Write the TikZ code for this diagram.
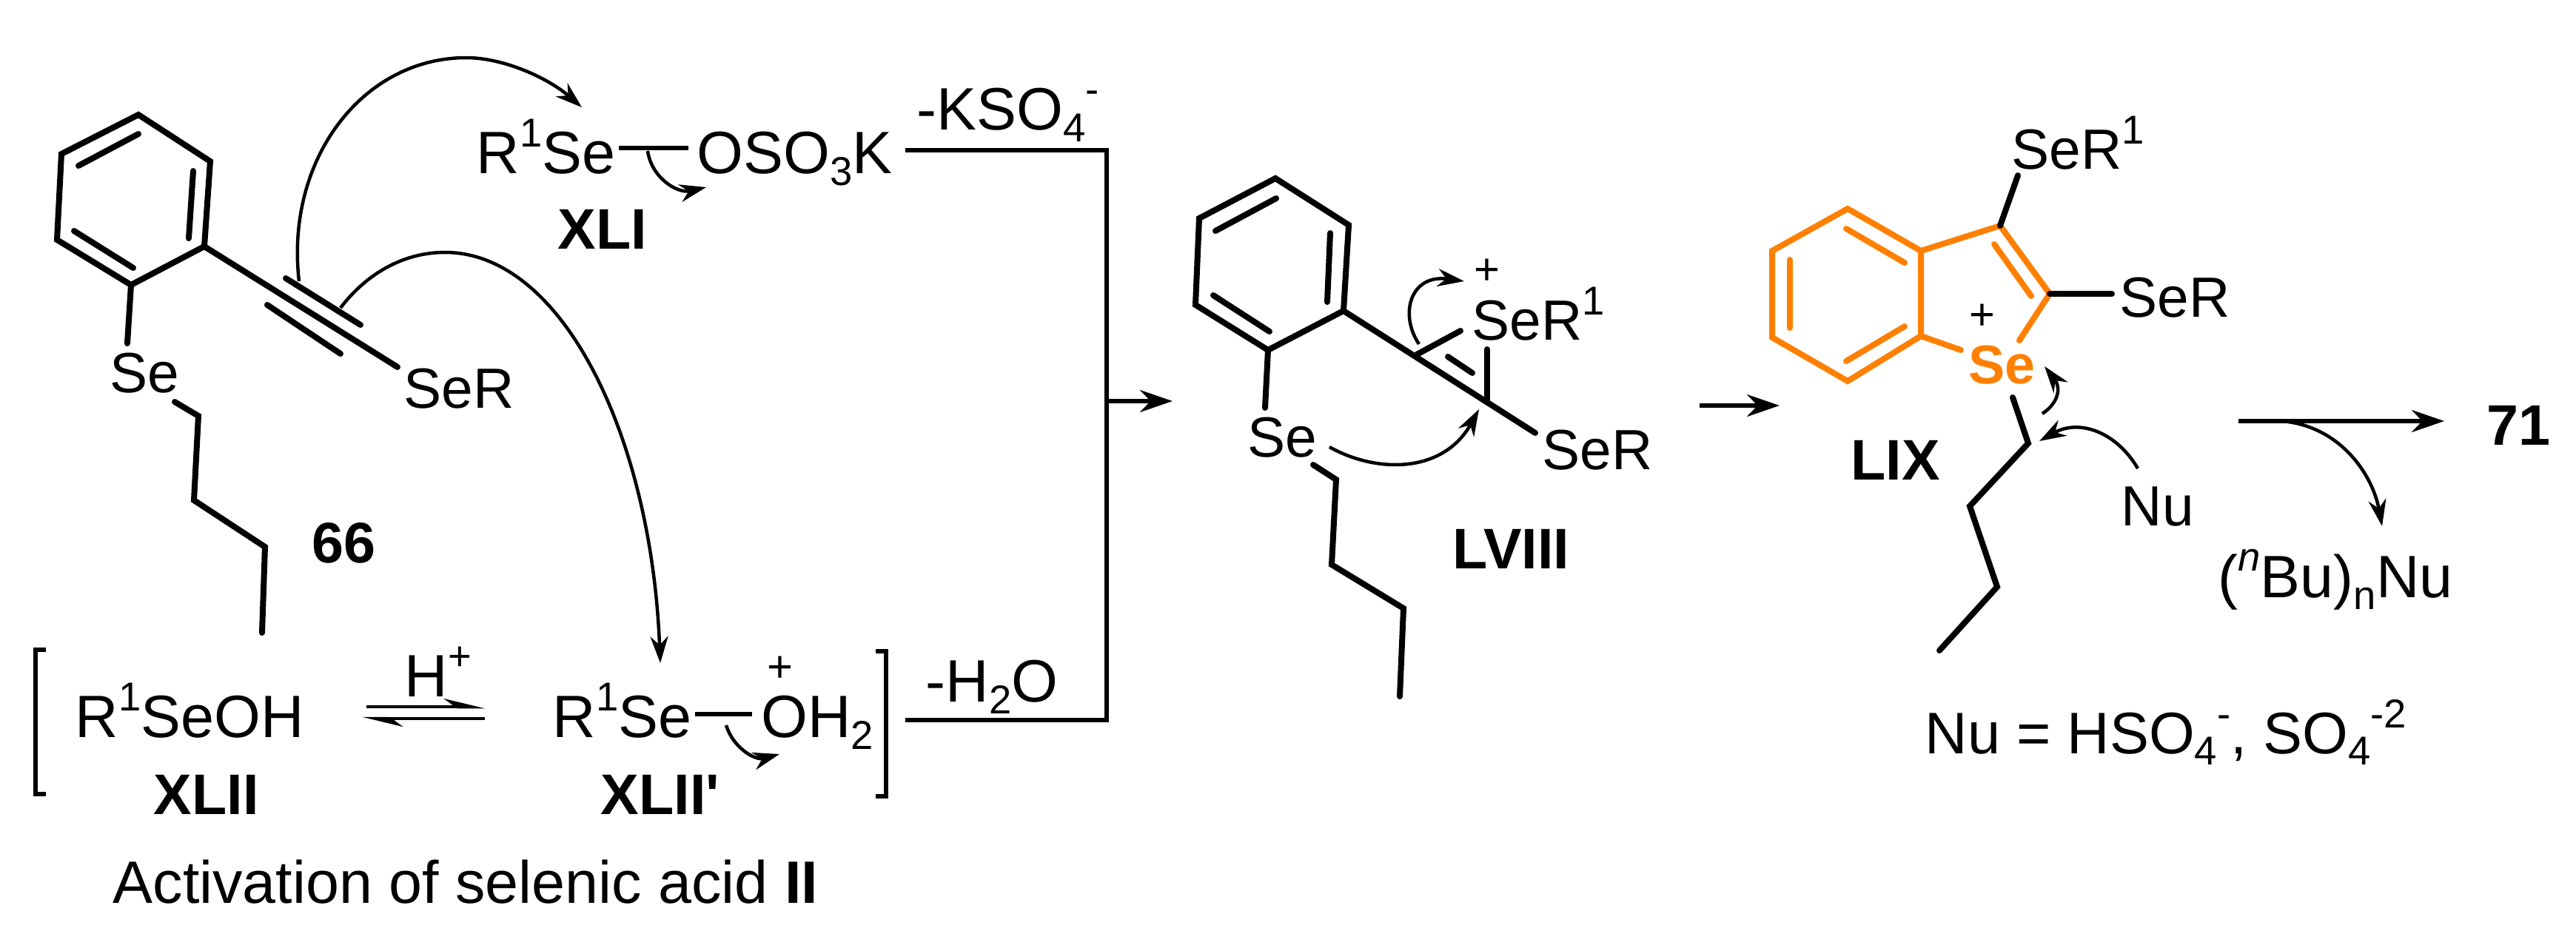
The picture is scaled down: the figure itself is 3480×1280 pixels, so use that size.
\documentclass[tikz,border=0pt]{standalone}
\usepackage{fontspec}
\setmainfont{Liberation Sans}
\usepackage{tikz}
\usetikzlibrary{arrows.meta}

\newcommand{\Sp}[1]{\raisebox{0.44em}{\fontsize{15.5}{15.5}\selectfont #1}}
\newcommand{\Sb}[1]{\raisebox{-0.2em}{\fontsize{15.5}{15.5}\selectfont #1}}

\begin{document}
\begin{tikzpicture}[x=0.1mm, y=-0.1mm]
		\tikzstyle{Label}	= [inner sep=0pt, anchor=base west, font=\fontsize{23}{27}\selectfont]
		\tikzstyle{Atom}	= [inner sep=0pt, anchor=base west, font=\fontsize{21.8}{26}\selectfont]
		\tikzstyle{Bold}	= [inner sep=0pt, anchor=base west, font=\fontsize{22}{26}\selectfont\bfseries]
		\tikzstyle{Plus}	= [inner sep=0pt, font=\fontsize{17}{20}\selectfont]
		\tikzstyle{Bond}	= [line width=0.8mm, line cap=round]
		\tikzstyle{Ring}	= [Bond, orange1]
		\tikzstyle{Frame}	= [line width=0.6mm]
		\tikzstyle{Push}	= [line width=0.45mm, -{Stealth[length=3.6mm, width=2.4mm]}]
		\tikzstyle{React}	= [line width=0.55mm, -{Stealth[length=4.4mm, width=3mm]}]
		\tikzstyle{Half}	= [line width=0.45mm, -{Stealth[length=4.6mm, width=2.2mm, left]}]
		\definecolor{orange1}{RGB}{255,128,0}

		\useasboundingbox (0,0) rectangle (3480,1280);

		% substrate 66
		\coordinate (a1) at (187,155);
		\coordinate (a2) at (284,218);
		\coordinate (a3) at (276,333);
		\coordinate (a4) at (177,385);
		\coordinate (a5) at (77,324);
		\coordinate (a6) at (83,208);
		\coordinate (a7) at (172,464);
		\coordinate (a8) at (236,543);
		\coordinate (a9) at (268,562);
		\coordinate (a10) at (262,676);
		\coordinate (a11) at (358,739);
		\coordinate (a12) at (354,855);
		\coordinate (a13) at (537,496);
		\draw (a1) -- (a2) -- (a3) -- (a4) -- (a5) -- (a6) -- cycle [Bond];
		\draw (106,224) -- (187,181) [Bond];
		\draw (261,231) -- (255,322) [Bond];
		\draw (100,312) -- (180,362) [Bond];
		\draw (a4) -- (a7) [Bond];
		\draw (a8) -- (a9) -- (a10) -- (a11) -- (a12) [Bond];
		\draw (a3) -- (a13) [Bond];
		\coordinate (t1) at (386,376);
		\coordinate (t2) at (487,439);
		\coordinate (t3) at (361,412);
		\coordinate (t4) at (460,478);
		\draw (t1) -- (t2) [Bond];
		\draw (t3) -- (t4) [Bond];
		\node (se1) at (148,530) [Atom] {Se};
		\node (ser1) at (545,551) [Atom] {SeR};
		\node (n66) at (421,760) [Bold] {66};

		% selenyl sulfate
		\node (xliA) at (643,234) [Label] {R\Sp{1}Se};
		\node (xliB) at (941,234) [Label] {OSO\Sb{3}K};
		\node (xli) at (753,336) [Bold] {XLI};
		\coordinate (d1) at (836,200);
		\coordinate (d2) at (930,200);
		\draw (d1) -- (d2) [Frame];
		\coordinate (d3) at (875,204);
		\coordinate (d4) at (954,253);
		\draw (d3) .. controls (880,240) and (915,262) .. (d4) [Push];
		\coordinate (p1) at (404,380);
		\coordinate (p2) at (630,78);
		\coordinate (p3) at (786,145);
		\draw (p1) .. controls (385,215) and (490,78) .. (p2) .. controls (680,78) and (740,105) .. (p3) [Push];
		\coordinate (q1) at (460,416);
		\coordinate (q2) at (601,341);
		\coordinate (q3) at (892,896);
		\draw (q1) .. controls (495,370) and (545,341) .. (q2) .. controls (760,341) and (880,590) .. (q3) [Push];

		% bracket
		\coordinate (l1) at (62,878);
		\coordinate (l2) at (48,878);
		\coordinate (l3) at (48,1073);
		\coordinate (l4) at (62,1073);
		\draw (l1) -- (l2) -- (l3) -- (l4) [Frame];
		\coordinate (r1) at (1183,880);
		\coordinate (r2) at (1197,880);
		\coordinate (r3) at (1197,1076);
		\coordinate (r4) at (1183,1076);
		\draw (r1) -- (r2) -- (r3) -- (r4) [Frame];
		\node (xliiA) at (101,996) [Label] {R\Sp{1}SeOH};
		\node (xlii) at (207,1100) [Bold] {XLII};
		\node (hplus) at (546,941) [Label] {H\Sp{+}};
		\coordinate (e1) at (495,955);
		\coordinate (e2) at (655,955);
		\coordinate (e3) at (655,971);
		\coordinate (e4) at (489,971);
		\draw (e1) -- (e2) [Half];
		\draw (e3) -- (e4) [Half];
		\node (xliiB) at (746,996) [Label] {R\Sp{1}Se};
		\node (xliiC) at (1028,996) [Label] {OH\Sb{2}};
		\node (plus1) at (1054,904) [Plus] {+};
		\node (xliip) at (811,1100) [Bold] {XLII{\addfontfeatures{Ligatures=TeXOff}'}};
		\coordinate (f1) at (939,965);
		\coordinate (f2) at (1016,965);
		\draw (f1) -- (f2) [Frame];
		\coordinate (f3) at (981,980);
		\coordinate (f4) at (1053,1019);
		\draw (f3) .. controls (990,1010) and (1020,1028) .. (f4) [Push];
		\node (activ) at (152,1220) [Label] {Activation of selenic acid \textbf{II}};

		% merging lines
		\coordinate (m1) at (1223,203);
		\coordinate (m2) at (1495,203);
		\coordinate (m3) at (1495,973);
		\coordinate (m4) at (1223,973);
		\coordinate (m5) at (1495,542);
		\coordinate (m6) at (1584,542);
		\draw (m1) -- (m2) -- (m3) -- (m4) [Frame];
		\draw (m5) -- (m6) [React];
		\node (kso) at (1238,175) [Label] {-KSO\Sb{4}\Sp{-}};
		\node (hho) at (1250,948) [Label] {-H\Sb{2}O};

		% seleniranium LVIII
		\coordinate (b1) at (1723,241);
		\coordinate (b2) at (1822,304);
		\coordinate (b3) at (1815,420);
		\coordinate (b4) at (1713,473);
		\coordinate (b5) at (1615,412);
		\coordinate (b6) at (1620,295);
		\coordinate (b7) at (1709,551);
		\coordinate (b8) at (1774,628);
		\coordinate (b9) at (1805,648);
		\coordinate (b10) at (1799,763);
		\coordinate (b11) at (1896,822);
		\coordinate (b12) at (1891,941);
		\coordinate (b13) at (2074,585);
		\coordinate (b14) at (1914,479);
		\coordinate (b15) at (2009,542);
		\coordinate (b16) at (1973,447);
		\coordinate (b17) at (2009,472);
		\draw (b1) -- (b2) -- (b3) -- (b4) -- (b5) -- (b6) -- cycle [Bond];
		\draw (1642,312) -- (1724,268) [Bond];
		\draw (1797,315) -- (1793,408) [Bond];
		\draw (1639,399) -- (1715,448) [Bond];
		\draw (b4) -- (b7) [Bond];
		\draw (b8) -- (b9) -- (b10) -- (b11) -- (b12) [Bond];
		\draw (b3) -- (b13) [Bond];
		\draw (b14) -- (b16) [Bond];
		\draw (b15) -- (b17) [Bond];
		\draw (1956,482) -- (1989,504) [Bond];
		\node (se2) at (1685,617) [Atom] {Se};
		\node (ser2) at (1988,459) [Atom] {SeR\Sp{1}};
		\node (ser3) at (2083,634) [Atom] {SeR};
		\node (plus2) at (2009,367) [Plus] {+};
		\node (lviii) at (1962,768) [Bold] {LVIII};
		\coordinate (g1) at (1917,465);
		\coordinate (g2) at (1978,380);
		\draw (g1) .. controls (1890,425) and (1905,370) .. (g2) [Push];
		\coordinate (g3) at (1796,604);
		\coordinate (g4) at (1998,553);
		\draw (g3) .. controls (1860,640) and (1950,640) .. (g4) [Push];
		\coordinate (h1) at (2296,548);
		\coordinate (h2) at (2404,548);
		\draw (h1) -- (h2) [React];

		% benzoselenophenium LIX
		\coordinate (c1) at (2496,282);
		\coordinate (c2) at (2595,339);
		\coordinate (c3) at (2595,454);
		\coordinate (c4) at (2496,515);
		\coordinate (c5) at (2394,456);
		\coordinate (c6) at (2394,339);
		\coordinate (c7) at (2702,305);
		\coordinate (c8) at (2769,397);
		\coordinate (c9) at (2728,460);
		\coordinate (c10) at (2649,473);
		\coordinate (c11) at (2726,237);
		\coordinate (c12) at (2853,397);
		\coordinate (c13) at (2719,537);
		\coordinate (c14) at (2740,599);
		\coordinate (c15) at (2661,684);
		\coordinate (c16) at (2698,793);
		\coordinate (c17) at (2620,879);
		\draw (c1) -- (c2) -- (c3) -- (c4) -- (c5) -- (c6) -- cycle [Ring];
		\draw (c2) -- (c7) -- (c8) -- (c9) [Ring];
		\draw (c3) -- (c10) [Ring];
		\draw (2494,309) -- (2573,355) [Ring];
		\draw (2418,351) -- (2418,443) [Ring];
		\draw (2494,488) -- (2573,441) [Ring];
		\draw (2694,330) -- (2744,400) [Ring];
		\draw (c7) -- (c11) [Bond];
		\draw (c8) -- (c12) [Bond];
		\draw (c13) -- (c14) -- (c15) -- (c16) -- (c17) [Bond];
		\node (se3) at (2659,518) [Bold, font=\fontsize{21}{25}\selectfont\bfseries, text=orange1] {Se};
		\node (plus3) at (2678,428) [Plus] {+};
		\node (ser4) at (2717,228) [Atom] {SeR\Sp{1}};
		\node (ser5) at (2863,428) [Atom] {SeR};
		\node (lix) at (2500,648) [Bold] {LIX};
		\node (nu1) at (2865,710) [Atom] {Nu};
		\coordinate (k1) at (2759,559);
		\coordinate (k2) at (2762,495);
		\draw (k1) .. controls (2780,545) and (2785,525) .. (k2) [Push];
		\coordinate (k3) at (2888,633);
		\coordinate (k4) at (2755,596);
		\draw (k3) .. controls (2860,585) and (2810,565) .. (k4) [Push];

		% product side
		\coordinate (n1) at (3024,569);
		\coordinate (n2) at (3302,569);
		\coordinate (n3) at (3082,569);
		\coordinate (n4) at (3218,711);
		\draw (n1) -- (n2) [React];
		\draw (n3) .. controls (3160,575) and (3205,640) .. (n4) [Push];
		\node (n71) at (3359,601) [Bold] {71};
		\node (bunu) at (2996,807) [Label] {(\Sp{\textit{n}}Bu)\Sb{n}Nu};
		\node (nudef) at (2600,1018) [Atom, font=\fontsize{22.6}{27}\selectfont] {Nu = HSO\Sb{4}\Sp{-}, SO\Sb{4}\Sp{-2}};
	\end{tikzpicture}
\end{document}
